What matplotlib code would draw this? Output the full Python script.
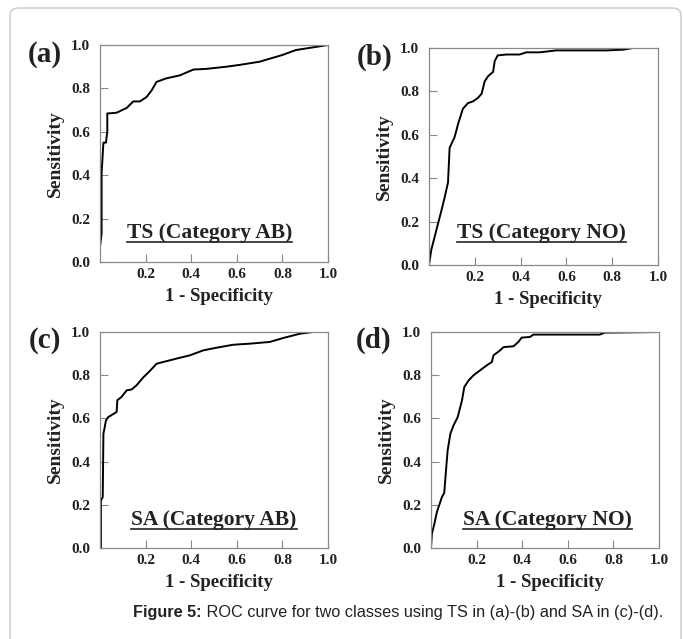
import matplotlib
matplotlib.use('Agg')
import matplotlib.pyplot as plt
from matplotlib.patches import FancyBboxPatch
from matplotlib.lines import Line2D

W, H = 683, 639
SERIF = 'Liberation Serif'

# ROC curves (1 - specificity, sensitivity)
fpr_a = [0, 0, 0.007, 0.007, 0.015, 0.026, 0.032, 0.032, 0.04, 0.073, 0.117, 0.146, 0.175, 0.204,
         0.226, 0.248, 0.29, 0.35, 0.41, 0.467, 0.555, 0.61, 0.7, 0.8, 0.86, 0.934, 1.0]
tpr_a = [0, 0.07, 0.13, 0.41, 0.55, 0.55, 0.6, 0.685, 0.685, 0.688, 0.71, 0.74, 0.74, 0.76,
         0.79, 0.83, 0.846, 0.86, 0.887, 0.89, 0.9, 0.908, 0.923, 0.954, 0.977, 0.989, 1.0]

fpr_b = [0, 0.01, 0.032, 0.054, 0.068, 0.083, 0.09, 0.112, 0.127, 0.148, 0.17, 0.192, 0.214, 0.23,
         0.243, 0.258, 0.28, 0.287, 0.30, 0.338, 0.396, 0.425, 0.483, 0.556, 0.774, 0.847, 0.89, 1.0]
tpr_b = [0, 0.07, 0.16, 0.25, 0.31, 0.38, 0.54, 0.59, 0.65, 0.72, 0.746, 0.754, 0.77, 0.79,
         0.846, 0.87, 0.89, 0.94, 0.966, 0.97, 0.97, 0.98, 0.98, 0.989, 0.989, 0.992, 1.0, 1.0]

fpr_c = [0.004, 0.004, 0.012, 0.015, 0.019, 0.026, 0.036, 0.058, 0.073, 0.076, 0.095, 0.117, 0.139,
         0.16, 0.19, 0.219, 0.248, 0.277, 0.336, 0.394, 0.453, 0.51, 0.584, 0.657, 0.745, 0.803,
         0.876, 0.934, 1.0]
tpr_c = [0, 0.22, 0.236, 0.53, 0.55, 0.59, 0.606, 0.62, 0.63, 0.684, 0.70, 0.73, 0.734,
         0.753, 0.79, 0.82, 0.853, 0.861, 0.877, 0.892, 0.915, 0.927, 0.941, 0.946, 0.954, 0.972,
         0.992, 1.0, 1.0]

fpr_d = [0, 0.004, 0.015, 0.026, 0.048, 0.058, 0.067, 0.073, 0.085, 0.099, 0.117, 0.136, 0.146,
         0.165, 0.187, 0.216, 0.245, 0.267, 0.274, 0.303, 0.318, 0.362, 0.383, 0.398, 0.434, 0.449,
         0.551, 0.74, 0.762, 1.0]
tpr_d = [0, 0.066, 0.113, 0.167, 0.236, 0.255, 0.375, 0.452, 0.529, 0.568, 0.606, 0.684, 0.745,
         0.776, 0.8, 0.823, 0.846, 0.861, 0.892, 0.915, 0.93, 0.934, 0.954, 0.974, 0.977, 0.988,
         0.988, 0.988, 0.997, 1.0]

panel_tags = ['(a)', '(b)', '(c)', '(d)']
panel_titles = ['TS (Category AB)', 'TS (Category NO)', 'SA (Category AB)', 'SA (Category NO)']
curves = [(fpr_a, tpr_a), (fpr_b, tpr_b), (fpr_c, tpr_c), (fpr_d, tpr_d)]
x_ticks = [0.2, 0.4, 0.6, 0.8, 1.0]
y_ticks = [0.0, 0.2, 0.4, 0.6, 0.8, 1.0]
caption_bold = 'Figure 5:'
caption_rest = ' ROC curve for two classes using TS in (a)-(b) and SA in (c)-(d).'

# pixel boxes (left, top, right, bottom) for each axes
boxes = [(100, 45, 328, 262), (429, 48, 658, 265), (100, 332, 328, 548), (431, 332, 659, 548)]
tag_pos = [(45, 55), (375, 57), (45, 340), (374, 340)]
title_pos = [(0.48, 0.135), (0.49, 0.147), (0.50, 0.13), (0.51, 0.13)]

fig = plt.figure(figsize=(W / 100, H / 100), dpi=100)

# light rounded frame around the figure
frame = FancyBboxPatch((10 / W, -0.2), 671 / W, 1 - 8 / H + 0.2,
                       boxstyle='round,pad=0,rounding_size=0.012', transform=fig.transFigure,
                       facecolor='none', edgecolor='#c8c8c8', linewidth=1.0)
fig.patches.append(frame)

titles = []
for i, (l, t, r, b) in enumerate(boxes):
    ax = fig.add_axes([l / W, 1 - b / H, (r - l) / W, (b - t) / H])
    fx, fy = curves[i]
    ax.plot(fx, fy, color='black', lw=1.4)
    ax.set_xlim(0, 1)
    ax.set_ylim(0, 1)
    ax.set_xticks(x_ticks)
    ax.set_yticks(y_ticks)
    ax.set_xticklabels([f'{v:.1f}' for v in x_ticks], fontfamily=SERIF, fontweight='bold', fontsize=11)
    ax.set_yticklabels([f'{v:.1f}' for v in y_ticks], fontfamily=SERIF, fontweight='bold', fontsize=11)
    ax.tick_params(axis='x', direction='in', length=6, width=0.8, color='#888888', pad=4.5, labelcolor='#222222')
    ax.tick_params(axis='y', direction='in', length=6, width=0.8, color='#888888', pad=7, labelcolor='#222222')
    for s in ax.spines.values():
        s.set_color('#8a8a8a')
        s.set_linewidth(0.9)
    h = b - t
    ax.set_xlabel('1 - Specificity', fontfamily=SERIF, fontweight='bold', fontsize=13.5, color='#222222')
    ax.set_ylabel('Sensitivity', fontfamily=SERIF, fontweight='bold', fontsize=14, color='#222222')
    ax.xaxis.set_label_coords(0.52, -26 / h)
    ax.yaxis.set_label_coords(-36 / (r - l), 0.5)
    tx, ty = title_pos[i]
    titles.append(ax.text(tx, ty, panel_titles[i], transform=ax.transAxes, ha='center', va='center',
                          fontfamily=SERIF, fontweight='bold', fontsize=15.5, color='#222222'))
    px, py = tag_pos[i]
    fig.text(px / W, 1 - py / H, panel_tags[i], ha='center', va='center',
             fontfamily=SERIF, fontweight='bold', fontsize=21, color='#222222')

# caption
cap = fig.text(133 / W, 1 - 612 / H, caption_bold, ha='left', va='center',
               fontfamily='Liberation Sans', fontweight='bold', fontsize=11.7, color='#222222')
fig.canvas.draw()
bb = cap.get_window_extent()
fig.text(bb.x1 / W, 1 - 612 / H, caption_rest, ha='left', va='center',
         fontfamily='Liberation Sans', fontsize=11.7, color='#222222')

# underline the panel titles
for t in titles:
    e = t.get_window_extent()
    yy = e.y0 + 1
    fig.add_artist(Line2D([e.x0 / W, e.x1 / W], [yy / H, yy / H], transform=fig.transFigure,
                          color='#222222', lw=1.2))

fig.savefig('out.png', dpi=100)
